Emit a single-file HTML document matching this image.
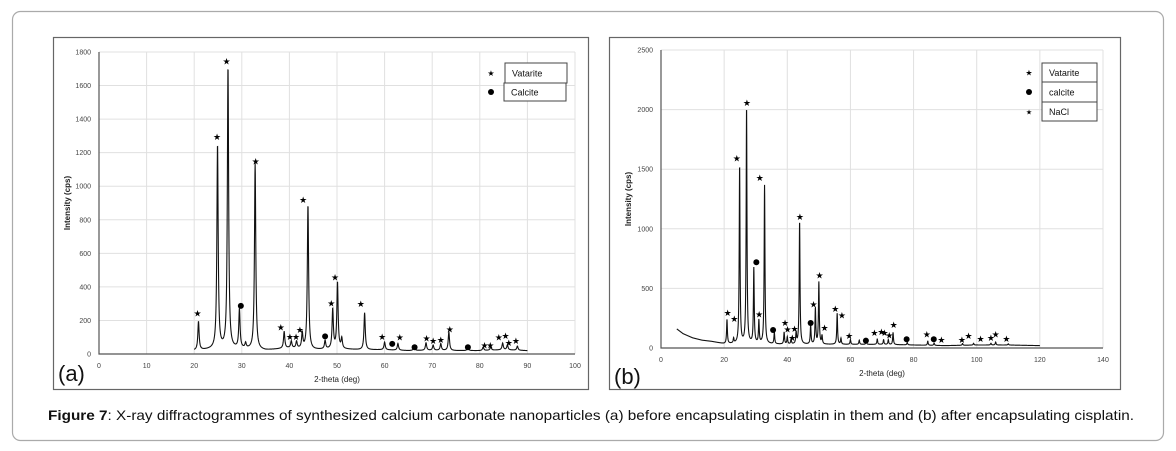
<!DOCTYPE html>
<html><head><meta charset="utf-8"><style>
html,body{margin:0;padding:0;background:#fff;}
svg{display:block;font-family:"Liberation Sans",sans-serif;}
</style></head><body>
<svg id="fig" width="1176" height="451" viewBox="0 0 1176 451" xmlns="http://www.w3.org/2000/svg">
<rect x="12.5" y="11.5" width="1151" height="429" rx="8" fill="#fff" stroke="#aaa" stroke-width="1.2"/>
<rect x="53.5" y="37.5" width="535" height="352" fill="#fff" stroke="#666" stroke-width="1.2"/>
<rect x="609.5" y="37.5" width="511" height="352" fill="#fff" stroke="#666" stroke-width="1.2"/>
<g id="ga"></g>
<g id="gb"></g>
<text x="48" y="420" font-size="13.6" fill="#111" textLength="1086" lengthAdjust="spacingAndGlyphs"><tspan font-weight="bold">Figure 7</tspan>: X-ray diffractogrammes of synthesized calcium carbonate nanoparticles (a) before encapsulating cisplatin in them and (b) after encapsulating cisplatin.</text>
</svg>
<script>
// ---- Chart A data ----
const aPeakPos = [20.9,24.9,27.1,29.5,30.8,32.8,38.9,40.4,41.5,42.7,43.9,47.5,49.1,50.1,51.0,55.8,60.0,62.8,66.2,68.7,70.2,71.8,73.5,77.5,80.7,82.3,84.8,85.8,87.9];
const aPeakHeight = [170,1215,1680,230,30,1110,100,40,40,90,860,50,235,395,60,220,45,40,25,45,30,40,110,20,20,20,40,30,25];
const aBaseX = [20,25,30,35,40,45,50,55,60,65,70,75,80,85,90];
const aBaseY = [20,30,30,22,35,25,30,25,25,20,22,20,20,25,20];
const aStarX = [20.7,24.8,26.8,32.9,38.2,40.1,41.4,42.2,42.9,48.8,49.6,55,59.5,63.2,68.8,70.2,71.8,73.7,81,82.2,84,85.4,86.1,87.6];
const aStarY = [243,1295,1745,1150,160,105,105,145,920,305,460,300,105,100,95,80,85,150,55,55,100,110,70,80];
const aDotX = [29.8,47.5,61.6,66.3,77.5];
const aDotY = [287,105,60,40,40];
const aXTicks = [0,10,20,30,40,50,60,70,80,90,100];
const aYTicks = [0,200,400,600,800,1000,1200,1400,1600,1800];
// ---- Chart B data ----
const bPeakPos = [20.9,23.0,24.9,27.1,29.4,31.0,32.8,35.9,39.0,40.0,41.2,42.8,43.9,47.4,48.9,50.0,51.0,55.8,57.0,60.0,62.8,65.0,68.5,70.5,72.0,73.5,78.0,84.5,86.5,95.5,99.0,104.5,106.0,110.0];
const bPeakHeight = [200,40,1490,1980,630,190,1330,95,100,60,40,95,1030,160,300,520,70,260,50,40,35,25,45,40,40,100,20,35,20,15,15,15,25,10];
const bBaseX = [5,7,10,13,16,20,25,30,40,50,60,70,80,90,100,110,120];
const bBaseY = [160,120,85,65,55,35,35,35,30,30,30,30,25,20,25,25,20];
const bStarX = [21.1,23.2,24,27.2,31.3,31.1,39.3,40.1,41.6,42.3,44,48.3,50.2,51.8,55.2,57.3,59.6,67.6,69.8,70.8,72.3,73.7,84.2,88.8,95.3,97.4,101.2,104.5,106,109.4];
const bStarY = [299,249,1594,2061,1432,285,215,159,89,165,1102,369,612,171,333,277,103,131,137,131,109,199,117,70,70,103,81,89,117,81];
const bDotX = [30.2,35.5,47.4,64.9,77.8,86.4];
const bDotY = [719,151,210,62,73,73];
const bXTicks = [0,20,40,60,80,100,120,140];
const bYTicks = [0,500,1000,1500,2000,2500];

const NS="http://www.w3.org/2000/svg";
function mk(parent,tag,attrs,text){const e=document.createElementNS(NS,tag);for(const k in attrs)e.setAttribute(k,attrs[k]);if(text!==undefined)e.textContent=text;parent.appendChild(e);return e;}
function interp(xs,ys,x){if(x<=xs[0])return ys[0];for(let i=1;i<xs.length;i++){if(x<=xs[i]){const t=(x-xs[i-1])/(xs[i]-xs[i-1]);return ys[i-1]+t*(ys[i]-ys[i-1]);}}return ys[ys.length-1];}

function drawChart(g,cfg){
  const sx=v=>cfg.x0+(v-cfg.xmin)/(cfg.xmax-cfg.xmin)*(cfg.x1-cfg.x0);
  const sy=v=>cfg.y0-(v/cfg.ymax)*(cfg.y0-cfg.y1);
  cfg.xTicks.forEach(t=>{
    const l=mk(g,'line',{x1:sx(t),x2:sx(t),y1:cfg.y0,y2:cfg.y1,stroke:'#e0e0e0','stroke-width':1});
    
    
    const tx=mk(g,'text',{x:sx(t),y:cfg.y0+14,'font-size':7,'text-anchor':'middle',fill:'#444'},String(t));
    
    
  });
  cfg.yTicks.forEach(t=>{
    if(t>0){const l=mk(g,'line',{x1:cfg.x0,x2:cfg.x1,y1:sy(t),y2:sy(t),stroke:'#e0e0e0','stroke-width':1});
    
    }
    const tx=mk(g,'text',{x:cfg.x0-8,y:sy(t)+2.5,'font-size':7,'text-anchor':'end',fill:'#444'},String(t));
    
    
  });
  const ax=mk(g,'path',{d:`M${cfg.x0},${cfg.y1}V${cfg.y0}H${cfg.x1}`,fill:'none',stroke:'#555','stroke-width':1.2});
  
  
  // curve
  let d='';
  const xs0=cfg.baseX[0],xs1=cfg.baseX[cfg.baseX.length-1];
  for(let x=xs0;x<=xs1+1e-9;x+=0.04){
    let y=interp(cfg.baseX,cfg.baseY,x);
    for(let i=0;i<cfg.peakPos.length;i++){const u=(x-cfg.peakPos[i])/cfg.w;y+=cfg.peakH[i]/(1+u*u);}
    d+=(d?'L':'M')+sx(x).toFixed(2)+','+sy(y).toFixed(2);
  }
  const c=mk(g,'path',{d:d,fill:'none',stroke:'#111','stroke-width':1.1});
  
  
  cfg.starX.forEach((v,i)=>{
    const s=mk(g,'text',{x:sx(v),y:sy(cfg.starY[i])+3.5,'font-size':9,'text-anchor':'middle',fill:'#000'},'★');
    
    
  });
  cfg.dotX.forEach((v,i)=>{
    const s=mk(g,'circle',{cx:sx(v),cy:sy(cfg.dotY[i]),r:3,fill:'#000'});
    
    
  });
  const xt=mk(g,'text',{x:(cfg.x0+cfg.x1)/2,y:cfg.y0+28,'font-size':8,'text-anchor':'middle',fill:'#222'},'2-theta (deg)');
  
  
  const yt=mk(g,'text',{x:0,y:0,'font-size':8,'text-anchor':'middle',fill:'#222','font-weight':'bold',transform:`translate(${cfg.ytx},${(cfg.y0+cfg.y1)/2}) rotate(-90)`},'Intensity (cps)');
  
  
  const pl=mk(g,'text',{x:cfg.lx,y:cfg.ly,'font-size':22,fill:'#111'},cfg.label);
  
  
}

drawChart(document.getElementById('ga'),{x0:99,x1:575,xmin:0,xmax:100,y0:354,y1:52,ymax:1800,xTicks:aXTicks,yTicks:aYTicks,peakPos:aPeakPos,peakH:aPeakHeight,baseX:aBaseX,baseY:aBaseY,w:0.16,starX:aStarX,starY:aStarY,dotX:aDotX,dotY:aDotY,ytx:70,lx:58,ly:381,label:'(a)'});
drawChart(document.getElementById('gb'),{x0:661,x1:1103,xmin:0,xmax:140,y0:348,y1:50,ymax:2500,xTicks:bXTicks,yTicks:bYTicks,peakPos:bPeakPos,peakH:bPeakHeight,baseX:bBaseX,baseY:bBaseY,w:0.15,starX:bStarX,starY:bStarY,dotX:bDotX,dotY:bDotY,ytx:631,lx:614,ly:384,label:'(b)'});

// legends
const ga=document.getElementById('ga'),gb=document.getElementById('gb');
function legendRow(g,bx,by,bw,bh,mx,marker,label){
  const r=mk(g,'rect',{x:bx,y:by,width:bw,height:bh,fill:'#fff',stroke:'#444','stroke-width':1});
  
  
  const t=mk(g,'text',{x:bx+7,y:by+bh/2+3.5,'font-size':9,fill:'#111'},label);
  
  
  let m;
  if(marker==='dot'){m=mk(g,'circle',{cx:mx,cy:by+bh/2,r:3,fill:'#000'});}
  else{m=mk(g,'text',{x:mx,y:by+bh/2+3,'font-size':marker==='small'?7:8,'text-anchor':'middle',fill:'#000'},'★');}
  
  
}
legendRow(ga,505,63,62,20,491,'star','Vatarite');
legendRow(ga,504,83,62,18,491,'dot','Calcite');
legendRow(gb,1042,63,55,19,1029,'star','Vatarite');
legendRow(gb,1042,82,55,20,1029,'dot','calcite');
legendRow(gb,1042,102,55,19,1029,'small','NaCl');
</script>
</body></html>
